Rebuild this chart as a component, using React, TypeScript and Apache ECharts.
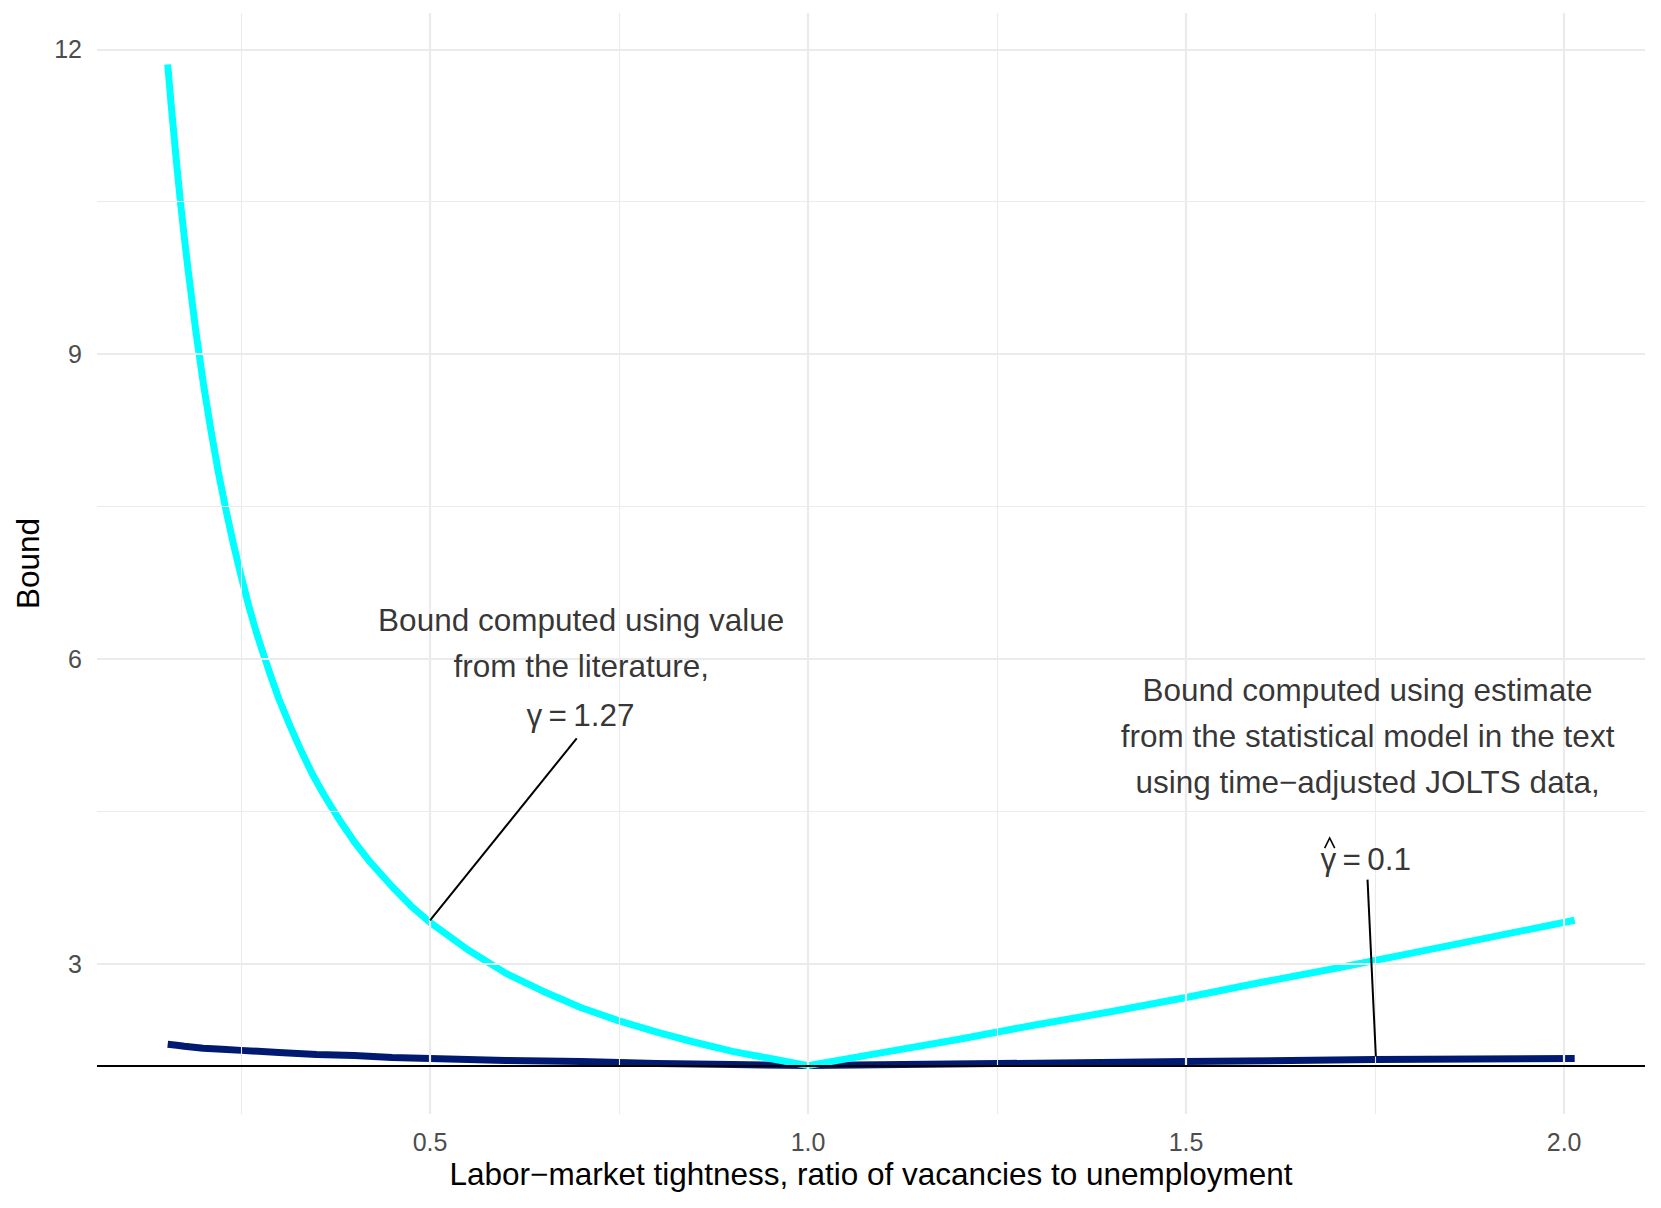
import React, { useEffect, useRef } from "react";
import * as echarts from "echarts";

// Labor-market tightness (x) and bound values
const thetaCyan = [0.153, 0.158, 0.165, 0.17, 0.175, 0.18, 0.19, 0.2, 0.21, 0.22, 0.23, 0.24, 0.25, 0.26, 0.27, 0.28, 0.29, 0.3, 0.315, 0.33, 0.345, 0.36, 0.38, 0.4, 0.42, 0.45, 0.475, 0.5, 0.55, 0.6, 0.65, 0.7, 0.75, 0.8, 0.85, 0.9, 0.95, 1.0, 1.1, 1.2, 1.3, 1.4, 1.5, 1.6, 1.7, 1.8, 1.9, 2.014];
const boundCyan = [11.85, 11.42, 10.86, 10.49, 10.15, 9.83, 9.24, 8.72, 8.26, 7.84, 7.47, 7.13, 6.82, 6.53, 6.27, 6.04, 5.82, 5.61, 5.34, 5.09, 4.86, 4.66, 4.42, 4.2, 4.01, 3.76, 3.57, 3.41, 3.14, 2.91, 2.73, 2.57, 2.44, 2.33, 2.23, 2.14, 2.07, 2.0, 2.13, 2.26, 2.4, 2.53, 2.67, 2.82, 2.96, 3.11, 3.26, 3.43];

const thetaNavy = [0.153, 0.165, 0.175, 0.2, 0.225, 0.25, 0.3, 0.35, 0.4, 0.45, 0.5, 0.6, 0.7, 0.8, 0.9, 1.0, 1.25, 1.5, 1.75, 2.014];
const boundNavy = [2.21, 2.2, 2.19, 2.17, 2.16, 2.15, 2.13, 2.11, 2.1, 2.08, 2.07, 2.05, 2.04, 2.02, 2.01, 2.0, 2.02, 2.04, 2.06, 2.07];

const referenceLineY = 2;

const xTickValues = [0.5, 1.0, 1.5, 2.0];
const xMinorValues = [0.25, 0.75, 1.25, 1.75];
const yTickValues = [3, 6, 9, 12];
const yMinorValues = [4.5, 7.5, 10.5];

const xRange = [0.0595, 2.107];
const yRange = [1.524, 12.357];

// Annotations (data coordinates)
const annotationSegment1 = [[0.5, 3.43], [0.694, 5.22]];
const annotationSegment2 = [[1.751, 2.09], [1.74, 3.83]];

const annotationText1 = "Bound computed using value\nfrom the literature,";
const annotationText1Pos = [0.7, 6.156];
const annotationMath1 = "γ\u2009=\u20091.27";
const annotationMath1Pos = [0.699, 5.45];

const annotationText2 = "Bound computed using estimate\nfrom the statistical model in the text\nusing time\u2212adjusted JOLTS data,";
const annotationText2Pos = [1.74, 5.243];
const annotationMath2 = "γ\u2009=\u20090.1";
const annotationMath2Pos = [1.7376, 4.03];
// the hat over gamma, drawn as a stroke (as plotmath does)
const annotationHat2 = [[1.6833, 4.141], [1.6899, 4.24], [1.6966, 4.141]];

const xTitle = "Labor\u2212market tightness, ratio of vacancies to unemployment";
const yTitle = "Bound";

const FONT = "'Liberation Sans', Arial, Helvetica, sans-serif";

export default function App() {
  const ref = useRef<HTMLDivElement>(null);

  useEffect(() => {
    if (!ref.current) return;
    const chart = echarts.init(ref.current, undefined, { renderer: "svg" });

    const gridLines: any[] = [];
    xTickValues.forEach((v) => gridLines.push({ xAxis: v, lineStyle: { color: "#ebebeb", width: 2.2, type: "solid" } }));
    xMinorValues.forEach((v) => gridLines.push({ xAxis: v, lineStyle: { color: "#ebebeb", width: 1.1, type: "solid" } }));
    yTickValues.forEach((v) => gridLines.push({ yAxis: v, lineStyle: { color: "#ebebeb", width: 2.2, type: "solid" } }));
    yMinorValues.forEach((v) => gridLines.push({ yAxis: v, lineStyle: { color: "#ebebeb", width: 1.1, type: "solid" } }));

    const textLabel = (pos: number[], text: string, lineHeight: number, fontSize = 31.5) => ({
      value: pos,
      label: {
        show: true,
        position: "inside",
        formatter: () => text,
        fontFamily: FONT,
        fontSize,
        lineHeight,
        color: "#000000",
        align: "center",
        verticalAlign: "middle",
      },
    });

    chart.setOption({
      animation: false,
      backgroundColor: "#ffffff",
      grid: { left: 97, right: 16, top: 13, bottom: 94, containLabel: false },
      xAxis: {
        type: "value",
        min: xRange[0],
        max: xRange[1],
        axisLine: { show: false },
        axisTick: { show: false },
        splitLine: { show: false },
        axisLabel: {
          customValues: xTickValues,
          formatter: (v: number) => v.toFixed(1),
          fontFamily: FONT,
          fontSize: 25,
          color: "#4d4d4d",
          margin: 15,
        },
      },
      yAxis: {
        type: "value",
        min: yRange[0],
        max: yRange[1],
        axisLine: { show: false },
        axisTick: { show: false },
        splitLine: { show: false },
        axisLabel: {
          customValues: yTickValues,
          formatter: (v: number) => String(v),
          fontFamily: FONT,
          fontSize: 25,
          color: "#4d4d4d",
          margin: 15,
        },
      },
      graphic: [
        {
          type: "text",
          x: 871,
          y: 1174,
          style: {
            text: xTitle,
            font: `31.5px ${FONT}`,
            fill: "#000000",
            align: "center",
            verticalAlign: "middle",
          },
        },
        {
          type: "text",
          x: 28,
          y: 563.5,
          rotation: Math.PI / 2,
          style: {
            text: yTitle,
            font: `31.5px ${FONT}`,
            fill: "#000000",
            align: "center",
            verticalAlign: "middle",
          },
        },
      ],
      series: [
        {
          type: "line",
          z: 1,
          silent: true,
          data: [],
          symbol: "none",
          markLine: {
            silent: true,
            symbol: ["none", "none"],
            label: { show: false },
            data: gridLines,
          },
        },
        {
          type: "line",
          z: 3,
          data: thetaNavy.map((t, i) => [t, boundNavy[i]]),
          symbol: "none",
          lineStyle: { color: "#001a72", width: 7, join: "round" },
        },
        {
          type: "line",
          z: 4,
          data: thetaCyan.map((t, i) => [t, boundCyan[i]]),
          symbol: "none",
          lineStyle: { color: "#00ffff", width: 7, join: "round" },
        },
        {
          type: "line",
          z: 5,
          silent: true,
          data: [],
          symbol: "none",
          markLine: {
            silent: true,
            symbol: ["none", "none"],
            label: { show: false },
            data: [{ yAxis: referenceLineY, lineStyle: { color: "#000000", width: 2, type: "solid" } }],
          },
        },
        {
          type: "line",
          z: 6,
          data: annotationSegment1,
          symbol: "none",
          lineStyle: { color: "#000000", width: 2 },
        },
        {
          type: "line",
          z: 6,
          data: annotationSegment2,
          symbol: "none",
          lineStyle: { color: "#000000", width: 2 },
        },
        {
          type: "line",
          z: 7,
          silent: true,
          data: annotationHat2,
          symbol: "none",
          lineStyle: { color: "#000000", width: 1.6, join: "miter" },
        },
        {
          type: "scatter",
          z: 7,
          symbolSize: 0,
          silent: true,
          data: [
            textLabel(annotationText1Pos, annotationText1, 45.6),
            textLabel(annotationMath1Pos, annotationMath1, 36),
            textLabel(annotationText2Pos, annotationText2, 46.3),
            textLabel(annotationMath2Pos, annotationMath2, 36),
          ],
        },
      ],
    });

    return () => chart.dispose();
  }, []);

  return (
    <div
      ref={ref}
      style={{ position: "fixed", left: 0, top: 0, width: 1661, height: 1208, background: "#fff" }}
    />
  );
}
